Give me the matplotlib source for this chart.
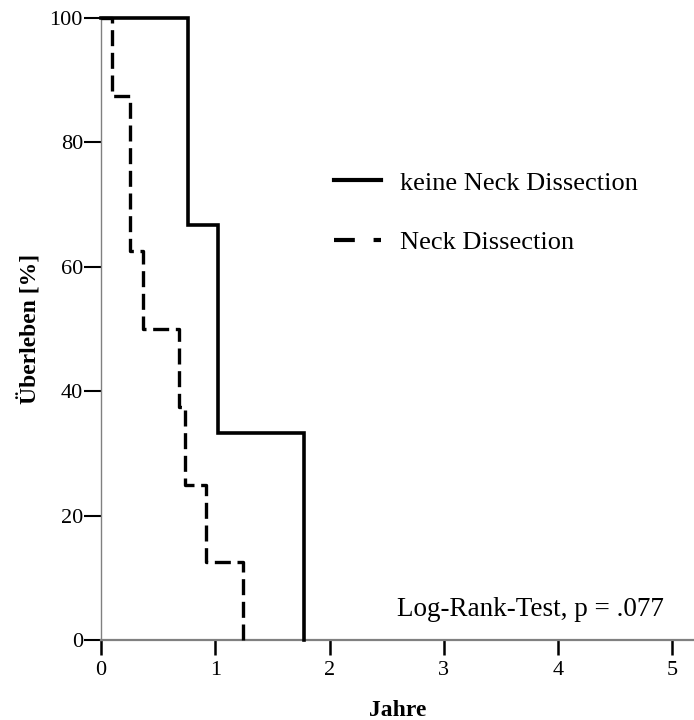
import matplotlib
matplotlib.use("Agg")
from matplotlib import pyplot as plt
from matplotlib.lines import Line2D

# Kaplan-Meier step points (years, survival %)
keine_t = [0, 0.76, 1.02, 1.78]
keine_s = [100, 66.7, 33.3, 0]
neck_t = [0, 0.10, 0.25, 0.37, 0.685, 0.735, 0.915, 1.245]
neck_s = [100, 87.5, 62.5, 50, 37.5, 25, 12.5, 0]

xticks = [0, 1, 2, 3, 4, 5]
yticks = [0, 20, 40, 60, 80, 100]

plt.rcParams["font.family"] = ["Liberation Serif", "DejaVu Serif"]

fig = plt.figure(figsize=(6.94, 7.2), dpi=100)
ax = fig.add_axes([0.1455, 0.111, 0.8545, 0.864])

ax.step(keine_t, keine_s, where="post", color="black", lw=2.6, clip_on=False,
        solid_joinstyle="miter", zorder=3)
ax.step(neck_t, neck_s, where="post", color="black", lw=2.4, clip_on=False,
        linestyle=(0, (4.8, 2.0)), zorder=3)

ax.set_xlim(0, 5.19)
ax.set_ylim(0, 100)
ax.set_xticks(xticks)
ax.set_yticks(yticks)
ax.tick_params(axis="both", labelsize=16, color="black")
ax.tick_params(axis="y", length=12.5, width=1.5, pad=0.5)
ax.tick_params(axis="x", length=11, width=1.8, pad=4)
for s in ["top", "right"]:
    ax.spines[s].set_visible(False)
for s in ["left", "bottom"]:
    ax.spines[s].set_color("#808080")
ax.spines["left"].set_linewidth(1.0)
ax.spines["bottom"].set_linewidth(1.6)

ax.set_xlabel("Jahre", fontsize=17, fontweight="bold")
ax.xaxis.set_label_coords(0.5, -0.096)
ax.set_ylabel("Überleben [%]", fontsize=17, fontweight="bold")
ax.yaxis.set_label_coords(-0.100, 0.5)

handles = [Line2D([], [], color="black", lw=3.0),
           Line2D([], [], color="black", lw=3.0, linestyle=(0, (5, 4.5)))]
ax.legend(handles, ["keine Neck Dissection", "Neck Dissection"],
          loc="center left", bbox_to_anchor=(0.370, 0.687), frameon=False,
          borderpad=0, fontsize=19, handlelength=1.78, handletextpad=0.72,
          labelspacing=1.38)

ax.text(0.499, 0.049, "Log-Rank-Test, p = .077", transform=ax.transAxes,
        fontsize=19.5, ha="left", va="center")

fig.savefig("out.png", dpi=100)
